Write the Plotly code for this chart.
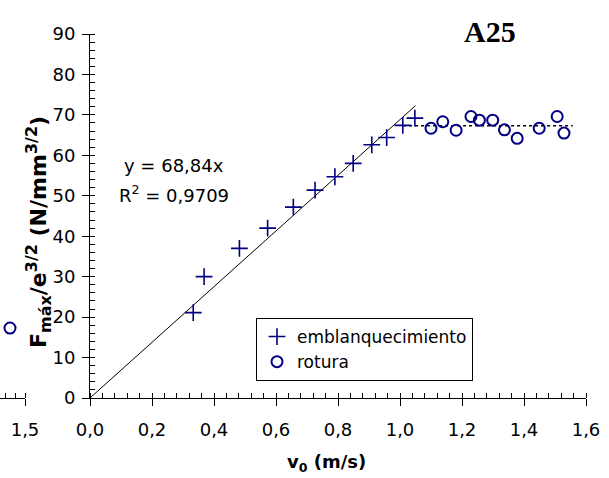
import plotly.graph_objects as go

W, H = 609, 478

# emblanquecimiento: impact velocity (m/s) vs normalised max force
v_embl = [0.333, 0.368, 0.482, 0.573, 0.656, 0.726, 0.790, 0.849, 0.909, 0.957, 1.009, 1.048]
f_embl = [21.1, 30.0, 37.0, 42.0, 47.2, 51.4, 54.7, 58.0, 62.6, 64.4, 67.4, 69.2]

# rotura
v_rot = [1.100, 1.138, 1.181, 1.229, 1.256, 1.299, 1.337, 1.378, 1.449, 1.507, 1.529]
f_rot = [66.7, 68.3, 66.2, 69.6, 68.7, 68.7, 66.3, 64.2, 66.7, 69.6, 65.5]

# linear fit through the origin
slope = 68.84
r2 = 0.9709
fit_x = [0.0, 1.05]

# plateau of the breakage points
plateau_x = [1.01, 1.557]
plateau_level = sum(f_rot) / len(f_rot)

# last point of the neighbouring panel
v_prev = [1.425]
f_prev = [17.3]

x_ticks = [0.0, 0.2, 0.4, 0.6, 0.8, 1.0, 1.2, 1.4, 1.6]
y_ticks = [0, 10, 20, 30, 40, 50, 60, 70, 80, 90]

NAVY = "#000080"
FONT = "DejaVu Sans"


def px(x):
    return x / W


def py(y):
    return 1 - y / H


fig = go.Figure()

fig.add_trace(go.Scatter(
    x=fit_x, y=[slope * v for v in fit_x], mode="lines",
    line=dict(color="black", width=1), showlegend=False, hoverinfo="skip"))
fig.add_trace(go.Scatter(
    x=plateau_x, y=[plateau_level] * len(plateau_x), mode="lines",
    line=dict(color="black", width=1.5, dash="dot"), showlegend=False, hoverinfo="skip"))
fig.add_trace(go.Scatter(
    x=v_embl, y=f_embl, mode="markers", name="emblanquecimiento",
    marker=dict(symbol="cross-thin", size=12, color=NAVY, line=dict(color=NAVY, width=1.6))))
fig.add_trace(go.Scatter(
    x=v_rot, y=f_rot, mode="markers", name="rotura",
    marker=dict(symbol="circle-open", size=11, color=NAVY, line=dict(color=NAVY, width=2))))
fig.add_trace(go.Scatter(
    x=v_prev, y=f_prev, mode="markers", xaxis="x2", showlegend=False,
    marker=dict(symbol="circle-open", size=11, color=NAVY, line=dict(color=NAVY, width=2))))
# helper traces so the inner halves of the major ticks are drawn
fig.add_trace(go.Scatter(x=[], y=[], xaxis="x3", yaxis="y", showlegend=False))
fig.add_trace(go.Scatter(x=[], y=[], xaxis="x", yaxis="y3", showlegend=False))

tickfont = dict(family=FONT, size=18, color="black")
x_dom = [px(90), px(586)]
y_dom = [py(398), py(34)]

common = dict(showgrid=False, zeroline=False, automargin=False, tickcolor="black")

fig.update_layout(
    template="none",
    width=W, height=H,
    margin=dict(l=0, r=0, t=0, b=0, autoexpand=False),
    paper_bgcolor="white", plot_bgcolor="white",
    separators=",.",
    xaxis=dict(domain=x_dom, range=[0, 1.6], anchor="y",
               tickvals=x_ticks, tickformat=".1f",
               ticks="outside", ticklen=7, tickwidth=1,
               minor=dict(dtick=0.04, ticks="inside", ticklen=5, tickcolor="black", tickwidth=1),
               showline=True, linecolor="black", linewidth=1,
               tickfont=tickfont, ticklabelstandoff=8, **common),
    xaxis3=dict(overlaying="x", anchor="y", range=[0, 1.6], tickvals=x_ticks,
                ticks="inside", ticklen=5, showticklabels=False, showline=False, **common),
    xaxis2=dict(domain=[0, px(25)], range=[1.375, 1.5], anchor="y",
                tickvals=[1.5], tickformat=".1f",
                ticks="outside", ticklen=7,
                minor=dict(dtick=0.05, tick0=1.5, ticks="inside", ticklen=5, tickcolor="black"),
                showline=True, linecolor="black", linewidth=1,
                tickfont=tickfont, ticklabelstandoff=8, **common),
    yaxis=dict(domain=y_dom, range=[0, 90], anchor="x",
               tickvals=y_ticks,
               ticks="outside", ticklen=7,
               minor=dict(dtick=2, ticks="inside", ticklen=5, tickcolor="black"),
               showline=True, linecolor="black", linewidth=1,
               tickfont=tickfont, ticklabelstandoff=3, **common),
    yaxis3=dict(overlaying="y", anchor="x", range=[0, 90], tickvals=y_ticks,
                ticks="inside", ticklen=5, showticklabels=False, showline=False, **common),
    legend=dict(x=px(256), y=py(318), xanchor="left", yanchor="top",
                bgcolor="white", bordercolor="black", borderwidth=1,
                font=dict(family=FONT, size=17, color="black"),
                tracegroupgap=0, itemwidth=30, entrywidth=195, entrywidthmode="pixels"),
)

eq1 = "y = " + f"{slope:.2f}".replace(".", ",") + "x"
eq2 = "R<sup>2</sup> = " + f"{r2:.4f}".replace(".", ",")

small = '<span style="font-size:16px">{}</span>'
y_title = ("<b>F<sub>" + small.format("máx") + "</sub>/e<sup>" + small.format("3/2")
           + "</sup> (N/mm<sup>" + small.format("3/2") + "</sup>)</b>")

annotations = [
    dict(text="<b>A25</b>", x=px(490), y=py(32),
         font=dict(family="Liberation Serif", size=30, color="black")),
    dict(text=eq1, x=px(174), y=py(165), font=dict(family=FONT, size=18, color="black")),
    dict(text=eq2, x=px(174), y=py(194), font=dict(family=FONT, size=18, color="black")),
    dict(text=y_title, x=px(39), y=py(232), textangle=-90,
         font=dict(family=FONT, size=22, color="black")),
    dict(text="<b>v<sub>0</sub> (m/s)</b>", x=px(326), y=py(463),
         font=dict(family=FONT, size=18, color="black")),
]
for a in annotations:
    a.update(xref="paper", yref="paper", showarrow=False, xanchor="center", yanchor="middle")
fig.update_layout(annotations=annotations)

fig.write_html("out.html")
